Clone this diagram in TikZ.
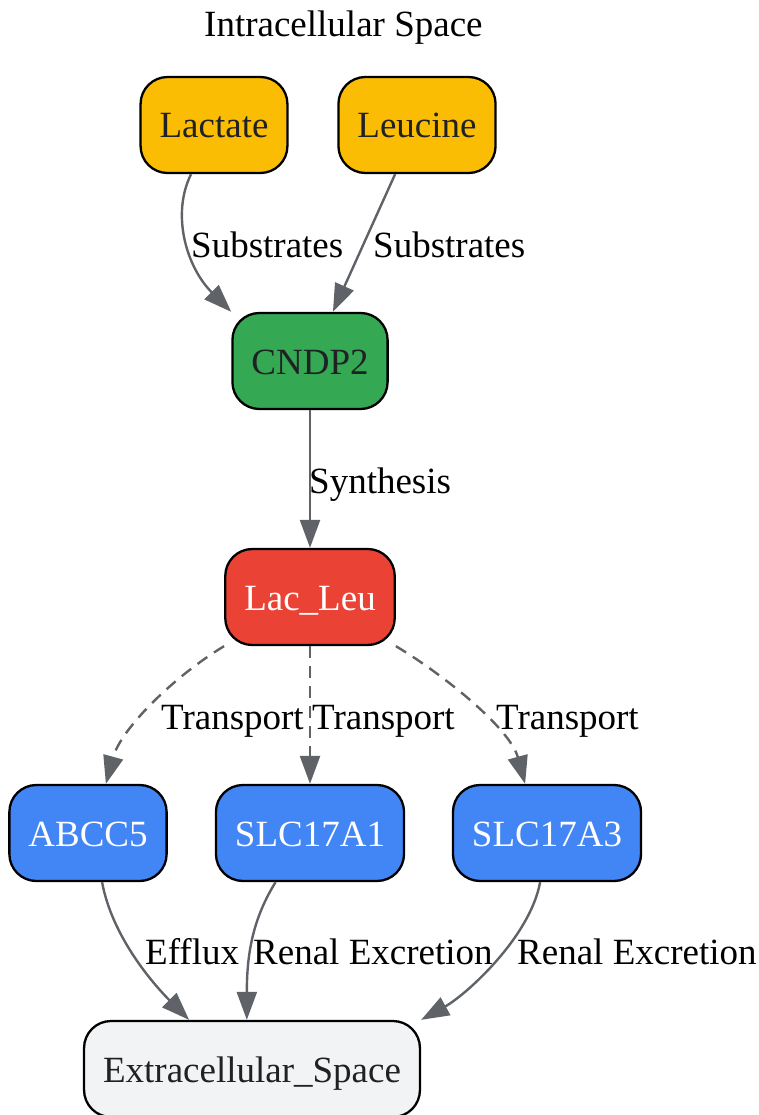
\documentclass[tikz,border=0pt]{standalone}
\usepackage{fontspec}
\setmainfont{Liberation Serif}
\usetikzlibrary{arrows.meta}
\definecolor{cyellow}{HTML}{FBBC04}
\definecolor{cgreen}{HTML}{34A853}
\definecolor{cred}{HTML}{EA4335}
\definecolor{cblue}{HTML}{4285F4}
\definecolor{clight}{HTML}{F1F3F4}
\definecolor{cink}{HTML}{202124}
\definecolor{cedge}{HTML}{5F6368}

\begin{document}
\begin{tikzpicture}[
    x=1pt, y=-1pt,
    box/.style={draw, line width=2.3pt, rounded corners=27pt, minimum height=96pt,
                inner xsep=19pt, inner ysep=0pt, text height=26pt, text depth=0pt,
                font=\fontsize{37}{44}\selectfont, text=cink},
    lbl/.style={anchor=base west, inner sep=0pt, font=\fontsize{37}{44}\selectfont},
    flow/.style={draw=cedge, line width=2.4pt, -{Triangle[length=28pt,width=20pt]}},
    dflow/.style={flow, dash pattern=on 12pt off 8pt}
  ]
  \useasboundingbox (0,0) rectangle (758,1115);

  \node[lbl] (title) at (204,37) {Intracellular Space};

  \node[box, fill=cyellow] (lactate) at (214,125) {Lactate};
  \node[box, fill=cyellow] (leucine) at (417,125) {Leucine};
  \node[box, fill=cgreen] (cndp2) at (310,361) {CNDP2};
  \node[box, fill=cred, text=white] (lacleu) at (310,597) {Lac\_Leu};
  \node[box, fill=cblue, text=white] (abcc5) at (88,833) {ABCC5};
  \node[box, fill=cblue, text=white] (slcA1) at (310,833) {SLC17A1};
  \node[box, fill=cblue, text=white] (slcA3) at (547,833) {SLC17A3};
  \node[box, fill=clight] (extra) at (252,1069) {Extracellular\_Space};

  \draw[flow] (lactate.245) .. controls +(-20,40) and +(-45,-45) .. (cndp2.north west);
  \draw[flow] (leucine.246) -- (cndp2.65);
  \draw[flow] (cndp2) -- (lacleu);
  \draw[dflow] (lacleu.south west) .. controls +(-50,30) and +(15,-55) .. (abcc5.70);
  \draw[dflow] (lacleu) -- (slcA1);
  \draw[dflow] (lacleu.south east) .. controls +(50,30) and +(-15,-55) .. (slcA3.114);
  \draw[flow] (abcc5.286) .. controls +(10,55) and +(-35,-35) .. (extra.142);
  \draw[flow] (slcA1.235) .. controls +(-25,40) and +(0,-60) .. (extra.96);
  \draw[flow] (slcA3.262) .. controls +(-10,55) and +(45,-25) .. (extra.north east);

  \node[lbl] (sub1) at (191,257) {Substrates};
  \node[lbl] (sub2) at (373,257) {Substrates};
  \node[lbl] (syn) at (309,493) {Synthesis};
  \node[lbl] (tr1) at (161,729) {Transport};
  \node[lbl] (tr2) at (312,729) {Transport};
  \node[lbl] (tr3) at (496,729) {Transport};
  \node[lbl] (eff) at (145,964) {Efflux};
  \node[lbl] (ren1) at (253,964) {Renal Excretion};
  \node[lbl] (ren2) at (517,964) {Renal Excretion};
\end{tikzpicture}
\end{document}
